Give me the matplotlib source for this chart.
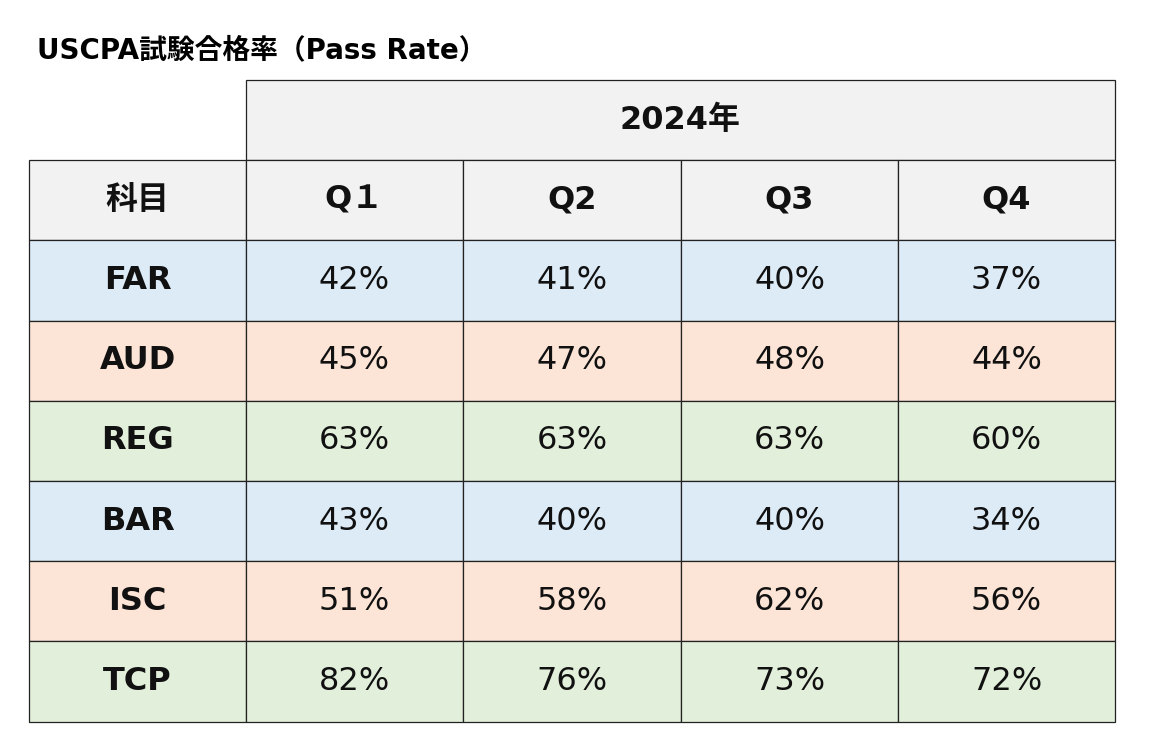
import matplotlib.pyplot as plt
from matplotlib.patches import Rectangle

plt.rcParams['font.family'] = ['DejaVu Sans', 'Noto Sans CJK JP']

title = 'USCPA試験合格率（Pass Rate）'
year_label = '2024年'
corner_label = '科目'
quarters = ['Q１', 'Q2', 'Q3', 'Q4']
subjects = ['FAR', 'AUD', 'REG', 'BAR', 'ISC', 'TCP']
q1 = [42, 45, 63, 43, 51, 82]
q2 = [41, 47, 63, 40, 58, 76]
q3 = [40, 48, 63, 40, 62, 73]
q4 = [37, 44, 60, 34, 56, 72]

row_colors = ['#DDEBF7', '#FCE4D6', '#E2EFDA']
header_color = '#F2F2F2'

col_x = [29, 246, 463, 681, 898, 1115]
top = 80
row_h = 80.2

fig = plt.figure(figsize=(11.5, 7.54), dpi=100)
ax = fig.add_axes([0, 0, 1, 1])
ax.set_xlim(0, 1150)
ax.set_ylim(754, 0)
ax.axis('off')

def cell(x0, x1, y0, text, color, bold):
    ax.add_patch(Rectangle((x0, y0), x1 - x0, row_h, facecolor=color,
                           edgecolor='#222222', linewidth=0.9))
    ax.text((x0 + x1) / 2, y0 + row_h / 2, text, ha='center', va='center',
            fontsize=23, fontweight='bold' if bold else 'normal', color='#111111')

ax.text(37, 50, title, ha='left', va='center', fontsize=20, fontweight='bold')

cell(col_x[1], col_x[-1], top, year_label, header_color, True)
y = top + row_h
cell(col_x[0], col_x[1], y, corner_label, header_color, True)
for i, q in enumerate(quarters):
    cell(col_x[i + 1], col_x[i + 2], y, q, header_color, True)

values = list(zip(q1, q2, q3, q4))
for r, name in enumerate(subjects):
    y = top + row_h * (r + 2)
    color = row_colors[r % 3]
    cell(col_x[0], col_x[1], y, name, color, True)
    for c, v in enumerate(values[r]):
        cell(col_x[c + 1], col_x[c + 2], y, f'{v}%', color, False)

fig.savefig('out.png', dpi=100)
